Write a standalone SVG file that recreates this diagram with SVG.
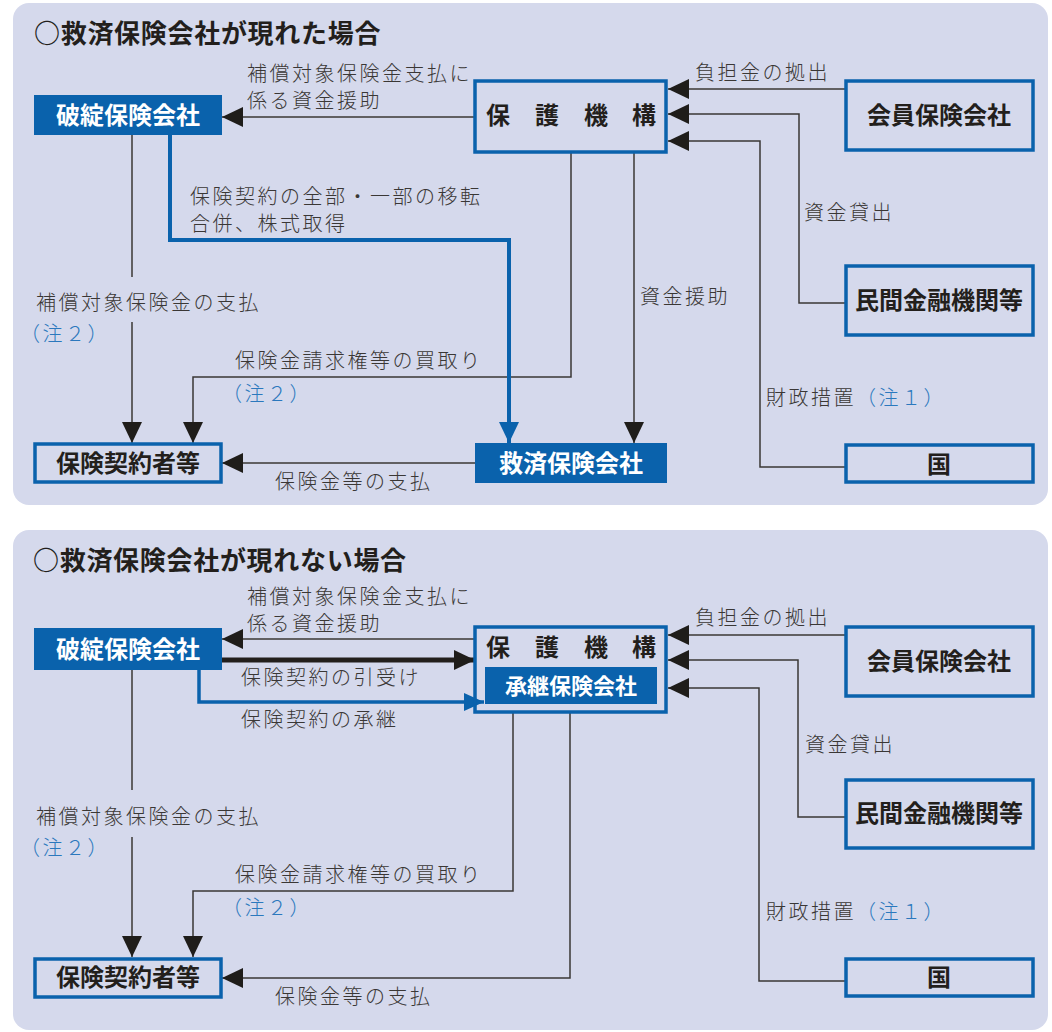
<svg xmlns="http://www.w3.org/2000/svg" width="1052" height="1032" viewBox="0 0 1052 1032">
<style>
.panel{fill:#d5d9ec}
.title{font-family:"Noto Sans CJK JP",sans-serif;font-size:26px;font-weight:bold;fill:#231f1c;letter-spacing:0.7px}
.lbl{font-family:"Noto Sans CJK JP",sans-serif;font-size:20px;font-weight:300;fill:#3a3735;letter-spacing:2.5px}
.note{fill:#2b78bd}
.nt{font-family:"Noto Sans CJK JP",sans-serif;font-size:24px;font-weight:bold;fill:#231f1c;text-anchor:middle}
.ntw{font-family:"Noto Sans CJK JP",sans-serif;font-size:24px;font-weight:bold;fill:#ffffff;text-anchor:middle}
.box{fill:none;stroke:#0a62ac;stroke-width:3.5}
.fbox{fill:#0a62ac}
.ln{fill:none;stroke:#3a3735;stroke-width:1.5}
.bl{fill:none;stroke:#0a62ac;stroke-width:4}
.thk{fill:none;stroke:#231f1c;stroke-width:5}
</style>
<defs>
<marker id="ah" markerUnits="userSpaceOnUse" markerWidth="22" markerHeight="22" refX="21" refY="10" orient="auto" viewBox="0 0 22 20">
<path d="M0,0 L21,10 L0,20 z" fill="#1f1d1a"/>
</marker>
<marker id="ahb" markerUnits="userSpaceOnUse" markerWidth="22" markerHeight="22" refX="21" refY="10" orient="auto" viewBox="0 0 22 20">
<path d="M0,0 L21,10 L0,20 z" fill="#0a62ac"/>
</marker>
<marker id="ahb2" markerUnits="userSpaceOnUse" markerWidth="20" markerHeight="18" refX="20" refY="9" orient="auto" viewBox="0 0 20 18">
<path d="M0,0 L20,9 L0,18 z" fill="#0a62ac"/>
</marker>
</defs>
<rect width="1052" height="1032" fill="#ffffff"/>

<!-- ========== TOP PANEL ========== -->
<g id="panel-top">
<rect class="panel" x="13" y="3" width="1035" height="502" rx="16"/>
<text class="title" x="34" y="43">○救済保険会社が現れた場合</text>
</g>

<g id="connectors-top">
<path class="ln" d="M475,117 H222" marker-end="url(#ah)"/>
<path class="ln" d="M845,89 H668" marker-end="url(#ah)"/>
<path class="ln" d="M845,303 H799 V114 H668" marker-end="url(#ah)"/>
<path class="ln" d="M845,467 H760 V141 H668" marker-end="url(#ah)"/>
<path class="ln" d="M571,152 V377 H193 V443" marker-end="url(#ah)"/>
<path class="ln" d="M634,152 V443" marker-end="url(#ah)"/>
<path class="ln" d="M132,135 V277"/>
<path class="ln" d="M132,322 V443" marker-end="url(#ah)"/>
<path class="bl" d="M170,135 V240 H509 V443" marker-end="url(#ahb)"/>
<path class="ln" d="M475,463 H222" marker-end="url(#ah)"/>
</g>

<g id="labels-top">
<text class="lbl"><tspan x="247" y="81">補償対象保険金支払に</tspan><tspan x="247" y="108">係る資金援助</tspan></text>
<text class="lbl" x="695" y="80">負担金の拠出</text>
<text class="lbl"><tspan x="190" y="204">保険契約の全部・一部の移転</tspan><tspan x="190" y="231">合併、株式取得</tspan></text>
<text class="lbl" x="804" y="220">資金貸出</text>
<text class="lbl"><tspan x="36" y="310">補償対象保険金の支払</tspan><tspan class="note" x="20" y="341">（注２）</tspan></text>
<text class="lbl" x="640" y="304">資金援助</text>
<text class="lbl"><tspan x="235" y="368">保険金請求権等の買取り</tspan><tspan class="note" x="222" y="401">（注２）</tspan></text>
<text class="lbl" x="766" y="405">財政措置<tspan class="note">（注１）</tspan></text>
<text class="lbl" x="275" y="489">保険金等の支払</text>
</g>

<g id="t-hatan">
<rect class="fbox" x="34" y="95" width="188" height="40"/>
<text class="ntw" x="128" y="124">破綻保険会社</text>
</g>
<g id="t-hogo">
<rect class="box" x="475" y="81" width="191" height="71"/>
<text class="nt" style="text-anchor:start" x="486 535 584 632" y="124">保護機構</text>
</g>
<g id="t-kaiin">
<rect class="box" x="846" y="81" width="187" height="69"/>
<text class="nt" x="939" y="124">会員保険会社</text>
</g>
<g id="t-minkan">
<rect class="box" x="846" y="266" width="187" height="69"/>
<text class="nt" x="939" y="309">民間金融機関等</text>
</g>
<g id="t-kuni">
<rect class="box" x="846" y="445" width="187" height="37"/>
<text class="nt" x="939" y="473">国</text>
</g>
<g id="t-keiyakusha">
<rect class="box" x="35" y="444" width="186" height="38"/>
<text class="nt" x="128" y="472">保険契約者等</text>
</g>
<g id="t-kyusai">
<rect class="fbox" x="475" y="443" width="192" height="40"/>
<text class="ntw" x="571" y="472">救済保険会社</text>
</g>

<!-- ========== BOTTOM PANEL ========== -->
<g id="panel-bottom">
<rect class="panel" x="13" y="530" width="1035" height="500" rx="16"/>
<text class="title" x="33" y="570">○救済保険会社が現れない場合</text>
</g>

<g id="connectors-bottom">
<path class="ln" d="M475,639 H222" marker-end="url(#ah)"/>
<path class="thk" d="M222,660 H475" marker-end="url(#ah)"/>
<path class="bl" d="M199,670 V702 H484" marker-end="url(#ahb2)" style="stroke-width:3.5"/>
<path class="ln" d="M845,635 H668" marker-end="url(#ah)"/>
<path class="ln" d="M845,817 H798 V660 H668" marker-end="url(#ah)"/>
<path class="ln" d="M845,981 H759 V688 H668" marker-end="url(#ah)"/>
<path class="ln" d="M132,670 V790"/>
<path class="ln" d="M132,837 V957" marker-end="url(#ah)"/>
<path class="ln" d="M513,712 V891 H193 V957" marker-end="url(#ah)"/>
<path class="ln" d="M570,712 V978 H222" marker-end="url(#ah)"/>
</g>

<g id="labels-bottom">
<text class="lbl"><tspan x="247" y="604">補償対象保険金支払に</tspan><tspan x="247" y="631">係る資金援助</tspan></text>
<text class="lbl" x="695" y="625">負担金の拠出</text>
<text class="lbl" x="241" y="685">保険契約の引受け</text>
<text class="lbl" x="241" y="727">保険契約の承継</text>
<text class="lbl" x="805" y="752">資金貸出</text>
<text class="lbl"><tspan x="36" y="824">補償対象保険金の支払</tspan><tspan class="note" x="20" y="855">（注２）</tspan></text>
<text class="lbl"><tspan x="235" y="882">保険金請求権等の買取り</tspan><tspan class="note" x="222" y="915">（注２）</tspan></text>
<text class="lbl" x="766" y="919">財政措置<tspan class="note">（注１）</tspan></text>
<text class="lbl" x="275" y="1004">保険金等の支払</text>
</g>

<g id="b-hatan">
<rect class="fbox" x="34" y="628" width="188" height="42"/>
<text class="ntw" x="128" y="658">破綻保険会社</text>
</g>
<g id="b-hogo">
<rect class="box" x="475" y="627" width="191" height="85"/>
<text class="nt" style="text-anchor:start" x="486 535 584 632" y="656">保護機構</text>
</g>
<g id="b-shokei">
<rect class="fbox" x="485" y="667" width="172" height="37"/>
<text class="ntw" style="font-size:22px" x="571" y="694">承継保険会社</text>
</g>
<g id="b-kaiin">
<rect class="box" x="846" y="627" width="187" height="69"/>
<text class="nt" x="939" y="670">会員保険会社</text>
</g>
<g id="b-minkan">
<rect class="box" x="846" y="780" width="187" height="68"/>
<text class="nt" x="939" y="822">民間金融機関等</text>
</g>
<g id="b-kuni">
<rect class="box" x="846" y="959" width="187" height="37"/>
<text class="nt" x="939" y="986">国</text>
</g>
<g id="b-keiyakusha">
<rect class="box" x="35" y="959" width="186" height="38"/>
<text class="nt" x="128" y="986">保険契約者等</text>
</g>
</svg>
